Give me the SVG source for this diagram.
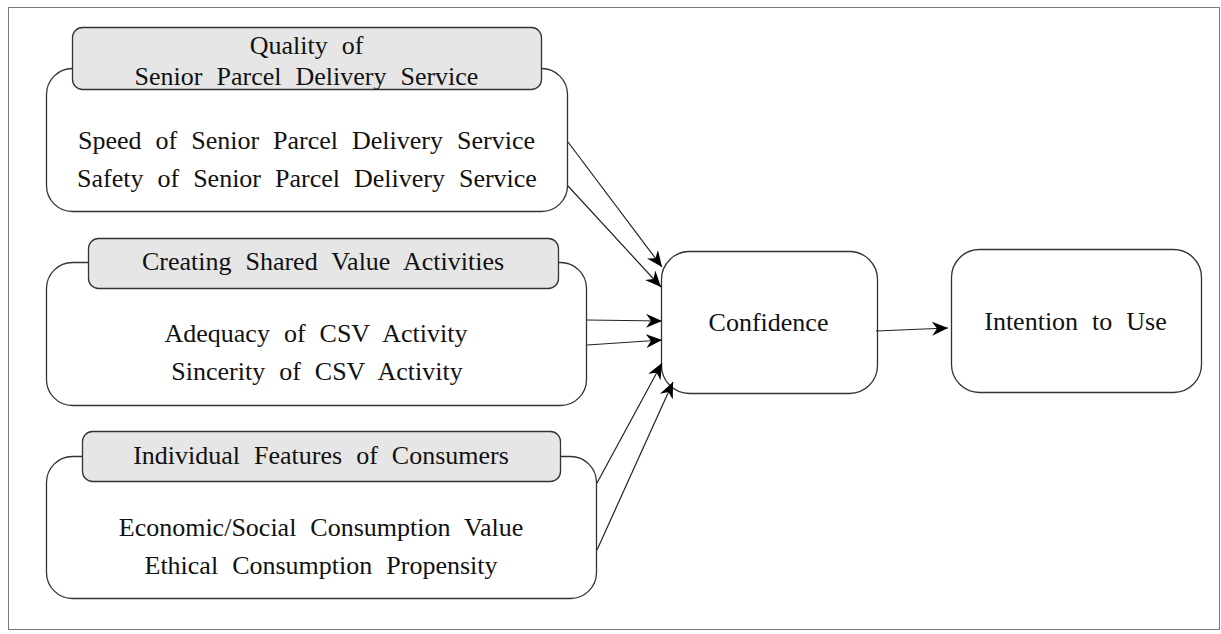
<svg xmlns="http://www.w3.org/2000/svg" width="1221" height="634" viewBox="0 0 1221 634">
  <style>
    .frame { fill: #ffffff; stroke: #7a7a7a; stroke-width: 1; }
    .box { fill: #ffffff; stroke: #333333; stroke-width: 1.3; }
    .tab { fill: #e6e6e6; stroke: #333333; stroke-width: 1.3; }
    .lbl { font-family: "Liberation Serif", "Times New Roman", serif; font-size: 26px; fill: #111111; text-anchor: middle; word-spacing: 7.5px; }
    .edge { fill: none; stroke: #222222; stroke-width: 1.2; marker-end: url(#arrow); }
  </style>
  <defs>
    <marker id="arrow" markerUnits="userSpaceOnUse" markerWidth="18" markerHeight="14" refX="16" refY="7" orient="auto">
      <path d="M0,0 L16,7 L0,14 L5,7 Z" fill="#000000"/>
    </marker>
  </defs>

  <!-- page frame -->
  <rect class="frame" x="8.5" y="7.5" width="1211" height="622"/>

  <!-- group 1: service quality -->
  <g id="quality">
    <rect class="box" x="46.5" y="68.5" width="521" height="143" rx="26" ry="26"/>
    <rect class="tab" x="72.5" y="27.5" width="469" height="62" rx="10" ry="10"/>
    <text class="lbl" x="306.5" y="54">Quality of</text>
    <text class="lbl" x="306.5" y="85">Senior Parcel Delivery Service</text>
    <text class="lbl" x="306.5" y="149">Speed of Senior Parcel Delivery Service</text>
    <text class="lbl" x="307" y="187">Safety of Senior Parcel Delivery Service</text>
  </g>

  <!-- group 2: CSV activities -->
  <g id="csv">
    <rect class="box" x="46.5" y="262.5" width="540" height="143" rx="26" ry="26"/>
    <rect class="tab" x="88.5" y="238.5" width="470" height="50" rx="10" ry="10"/>
    <text class="lbl" x="323" y="270">Creating Shared Value Activities</text>
    <text class="lbl" x="316" y="342">Adequacy of CSV Activity</text>
    <text class="lbl" x="317" y="380">Sincerity of CSV Activity</text>
  </g>

  <!-- group 3: consumer features -->
  <g id="consumers">
    <rect class="box" x="46.5" y="456.5" width="550" height="142" rx="26" ry="26"/>
    <rect class="tab" x="82.5" y="431.5" width="478" height="50" rx="10" ry="10"/>
    <text class="lbl" x="321" y="464">Individual Features of Consumers</text>
    <text class="lbl" x="321" y="536">Economic/Social Consumption Value</text>
    <text class="lbl" x="321" y="574">Ethical Consumption Propensity</text>
  </g>

  <!-- mediator -->
  <g id="confidence">
    <rect class="box" x="661.5" y="251.5" width="216" height="142" rx="28" ry="28"/>
    <text class="lbl" x="768.5" y="331">Confidence</text>
  </g>

  <!-- outcome -->
  <g id="intention">
    <rect class="box" x="951.5" y="249.5" width="250" height="143" rx="28" ry="28"/>
    <text class="lbl" x="1075.5" y="330">Intention to Use</text>
  </g>

  <!-- connectors -->
  <g id="connectors">
    <line class="edge" x1="568" y1="142" x2="662" y2="267"/>
    <line class="edge" x1="568" y1="186" x2="661" y2="287"/>
    <line class="edge" x1="587" y1="320" x2="662" y2="321"/>
    <line class="edge" x1="587" y1="345" x2="662" y2="340"/>
    <line class="edge" x1="597" y1="483" x2="662" y2="363"/>
    <line class="edge" x1="597" y1="550" x2="673" y2="382"/>
    <line class="edge" x1="876" y1="331" x2="948" y2="328"/>
  </g>
</svg>
